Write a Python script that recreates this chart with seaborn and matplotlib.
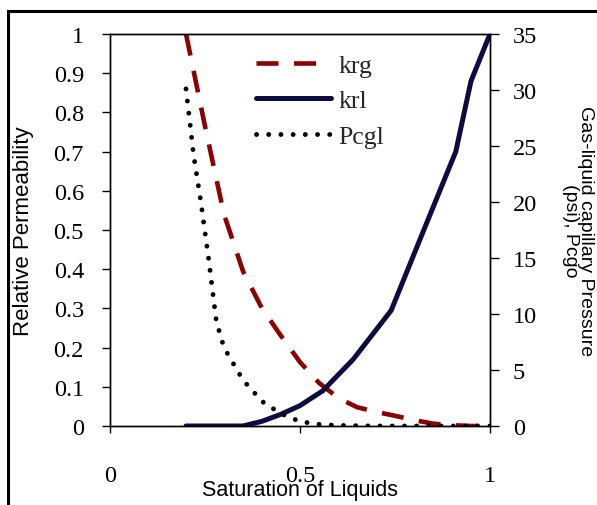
import matplotlib
matplotlib.use("Agg")
import matplotlib.pyplot as plt
import seaborn as sns
from matplotlib.patches import Rectangle

# ---- data ----
sat_krg = [0.2, 0.25, 0.3, 0.35, 0.4, 0.45, 0.5, 0.55, 0.6, 0.65, 0.7, 0.75, 0.8, 0.85, 0.9, 0.95, 1.0]
krg = [1.0, 0.765, 0.54, 0.395, 0.30, 0.23, 0.163, 0.11, 0.072, 0.048, 0.036, 0.026, 0.015, 0.006, 0.002, 0.0, 0.0]

sat_krl = [0.2, 0.35, 0.40, 0.45, 0.5, 0.56, 0.64, 0.74, 0.83, 0.91, 0.95, 1.0]
krl = [0.0, 0.0, 0.012, 0.03, 0.052, 0.09, 0.17, 0.295, 0.51, 0.70, 0.88, 1.0]

sat_pc = [0.2, 0.22, 0.24, 0.26, 0.28, 0.3, 0.35, 0.4, 0.45, 0.5, 0.55, 0.6, 0.7, 0.8, 0.9, 1.0]
pcgl = [30.1, 24.2, 19.8, 14.8, 9.3, 7.0, 4.1, 2.2, 1.1, 0.4, 0.15, 0.05, 0.0, 0.0, 0.0, 0.0]

series_labels = ["krg", "krl", "Pcgl"]
x_ticks = [0, 0.5, 1]
x_tick_labels = ["0", "0.5", "1"]
left_ticks = [0, 0.1, 0.2, 0.3, 0.4, 0.5, 0.6, 0.7, 0.8, 0.9, 1.0]
left_tick_labels = ["0", "0.1", "0.2", "0.3", "0.4", "0.5", "0.6", "0.7", "0.8", "0.9", "1"]
right_ticks = [0, 5, 10, 15, 20, 25, 30, 35]
right_tick_labels = ["0", "5", "10", "15", "20", "25", "30", "35"]

sns.set_style("white")
plt.rcParams["font.family"] = ["Liberation Serif", "DejaVu Serif"]
SANS = ["Liberation Sans", "DejaVu Sans"]

fig = plt.figure(figsize=(5.97, 5.06), dpi=100)
ax = fig.add_axes([110 / 597, 1 - 427 / 506, 380 / 597, 392 / 506])
ax2 = ax.twinx()

sns.lineplot(x=sat_krg, y=krg, ax=ax, color="#8B0000", linewidth=3.3,
             linestyle=(0, (4.8, 3.4)), label=series_labels[0], legend=False, sort=False)
sns.lineplot(x=sat_krl, y=krl, ax=ax, color="#0C0C40", linewidth=3.6,
             label=series_labels[1], legend=False, sort=False)
sns.lineplot(x=sat_pc, y=pcgl, ax=ax2, color="black", linewidth=3.5,
             linestyle=(0, (0.01, 2.5)), dash_capstyle="round",
             label=series_labels[2], legend=False, sort=False)

ax.set_xlim(0, 1)
ax.set_ylim(0, 1)
ax2.set_ylim(0, 35)

ax.set_xticks(x_ticks)
ax.set_xticklabels(x_tick_labels)
ax.set_yticks(left_ticks)
ax.set_yticklabels(left_tick_labels)
ax2.set_yticks(right_ticks)
ax2.set_yticklabels(right_tick_labels)

for a in (ax, ax2):
    for s in a.spines.values():
        s.set_visible(True)
        s.set_color("black")
        s.set_linewidth(1.0)

ax.tick_params(axis="y", direction="out", length=5.8, width=1, pad=13,
               labelsize=17.5, left=True, right=False, colors="black")
ax.tick_params(axis="x", direction="out", length=5, width=1, pad=23,
               labelsize=17.5, bottom=True, top=False, colors="black")
ax2.tick_params(axis="y", direction="out", length=6.5, width=1, pad=10,
                labelsize=17.5, right=True, left=False, colors="black")

ax.set_xlabel("Saturation of Liquids", fontfamily=SANS, fontsize=15.5, color="black")
ax.xaxis.set_label_coords(0.5, -0.135)
ax.set_ylabel("Relative Permeability", fontfamily=SANS, fontsize=16, color="black")
ax.yaxis.set_label_coords(-0.20, 0.5)
ax2.set_ylabel("Gas-liquid capillary Pressure\n(psi), Pcgo", fontfamily=SANS,
               fontsize=14, rotation=270, va="bottom", linespacing=0.85, color="black")
ax2.yaxis.set_label_coords(1.19, 0.5)

handles = list(ax.get_lines()) + list(ax2.get_lines())
ax2.legend(handles, [h.get_label() for h in handles], loc="upper left",
           bbox_to_anchor=(0.385, 0.95), frameon=False, fontsize=18.5,
           handlelength=2.9, handletextpad=0.3, labelspacing=0.5,
           borderaxespad=0, borderpad=0)

fig.add_artist(Rectangle((8 / 597, -0.1), 2, 1 - 12 / 506 + 0.1,
                         transform=fig.transFigure, fill=False,
                         linewidth=2.2, edgecolor="black"))

fig.savefig("out.png", dpi=100)
